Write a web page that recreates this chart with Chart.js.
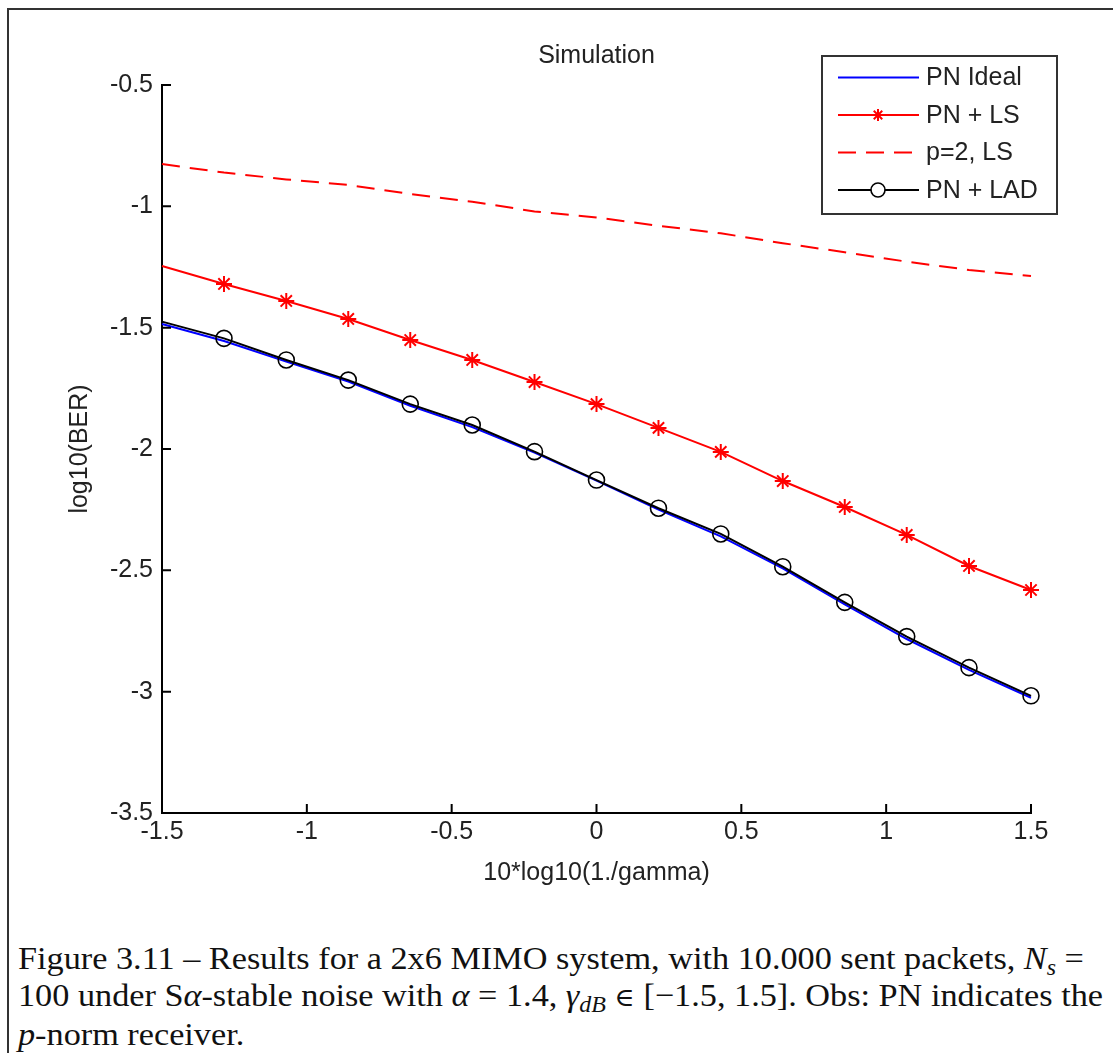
<!DOCTYPE html>
<html>
<head>
<meta charset="utf-8">
<script src="https://cdn.jsdelivr.net/npm/chart.js@4.4.1/dist/chart.umd.min.js"></script>
<style>
  html, body { margin: 0; padding: 0; background: #fff; }
  body { width: 1113px; height: 1053px; position: relative; overflow: hidden; }
  #frame { position: absolute; left: 7px; top: 8px; width: 1300px; height: 1200px;
           border-left: 2px solid #333; border-top: 2px solid #333; }
  #wrap { position: absolute; left: 0; top: 0; width: 1113px; height: 900px; }
  #caption { position: absolute; left: 18px; top: 940px; font-family: "Liberation Serif", serif;
             font-size: 32px; line-height: 37px; white-space: nowrap; color: #111;
             transform: scaleX(1.07); transform-origin: 0 0; }
  #caption sub { font-size: 70%; line-height: 0; vertical-align: -0.25em; }
  #caption .sym { font-family: "DejaVu Serif", serif; font-size: 80%; }
</style>
</head>
<body>
<div id="frame"></div>
<div id="wrap"><canvas id="simChart"></canvas></div>
<div id="caption">Figure 3.11 – Results for a 2x6 MIMO system, with 10.000 sent packets, <i>N<sub>s</sub></i> =<br>100 under S<i>α</i>-stable noise with <i>α</i> = 1.4, <i>γ<sub>dB</sub></i> <span class="sym">∈</span> [−1.5, 1.5]. Obs: PN indicates the<br><i>p</i>-norm receiver.</div>
<script>
// x: 10*log10(1./gamma)
const xValues = [-1.5, -1.286, -1.071, -0.857, -0.643, -0.429, -0.214, 0, 0.214, 0.429, 0.643, 0.857, 1.071, 1.286, 1.5];

// log10(BER) per receiver
const pnIdeal = [-1.485, -1.555, -1.640, -1.722, -1.822, -1.910, -2.015, -2.130, -2.250, -2.360, -2.492, -2.640, -2.783, -2.910, -3.025];
const pnLS    = [-1.246, -1.320, -1.390, -1.464, -1.551, -1.633, -1.724, -1.815, -1.913, -2.012, -2.132, -2.239, -2.354, -2.482, -2.581];
const p2LS    = [-0.826, -0.861, -0.889, -0.912, -0.949, -0.981, -1.021, -1.046, -1.080, -1.111, -1.152, -1.189, -1.228, -1.262, -1.287];
const pnLAD   = [-1.475, -1.544, -1.633, -1.716, -1.815, -1.901, -2.011, -2.128, -2.244, -2.350, -2.485, -2.632, -2.773, -2.901, -3.017];

const seriesNames = ['PN Ideal', 'PN + LS', 'p=2, LS', 'PN + LAD'];
const xTicks = [-1.5, -1, -0.5, 0, 0.5, 1, 1.5];
const yTicks = [-3.5, -3, -2.5, -2, -1.5, -1, -0.5];

const FONT = 'Liberation Sans, Arial, sans-serif';
const TXT = '#222';

function pts(arr) {
  return xValues.map((x, i) => ({ x, y: arr[i] }));
}
// first sample sits on the axis: line only, marker clipped in the original
const skipFirst = (r) => (c) => c.dataIndex === 0 ? 0 : r;

// MATLAB style inward ticks
const inwardTicks = {
  id: 'inwardTicks',
  afterDatasetsDraw(chart) {
    const { ctx, chartArea, scales } = chart;
    ctx.save();
    ctx.strokeStyle = '#000';
    ctx.lineWidth = 2;
    ctx.beginPath();
    scales.x.ticks.forEach((t, i) => {
      const px = scales.x.getPixelForTick(i);
      ctx.moveTo(px, chartArea.bottom);
      ctx.lineTo(px, chartArea.bottom - 9);
    });
    scales.y.ticks.forEach((t, i) => {
      const py = scales.y.getPixelForTick(i);
      ctx.moveTo(chartArea.left, py);
      ctx.lineTo(chartArea.left + 9, py);
    });
    ctx.stroke();
    ctx.restore();
  }
};

// boxed legend in the upper right, like the figure
const boxLegend = {
  id: 'boxLegend',
  afterDraw(chart) {
    const ctx = chart.ctx;
    const x0 = 822, y0 = 56, w = 235, h = 158;
    ctx.save();
    ctx.fillStyle = '#fff';
    ctx.fillRect(x0, y0, w, h);
    ctx.strokeStyle = '#333';
    ctx.lineWidth = 2;
    ctx.strokeRect(x0, y0, w, h);
    chart.data.datasets.forEach((ds, i) => {
      const cy = 77.5 + i * 37.5;
      ctx.strokeStyle = ds.borderColor;
      ctx.lineWidth = 2;
      ctx.setLineDash(ds.borderDash || []);
      ctx.beginPath();
      ctx.moveTo(838, cy);
      ctx.lineTo(919, cy);
      ctx.stroke();
      ctx.setLineDash([]);
      if (ds.legendMarker) {
        ctx.strokeStyle = ds.borderColor;
        ctx.fillStyle = ds.pointStyle === 'circle' ? '#fff' : ds.borderColor;
        ctx.lineWidth = ds.pointBorderWidth;
        Chart.helpers.drawPoint(ctx, {
          pointStyle: ds.pointStyle, radius: ds.legendMarker, borderWidth: ds.pointBorderWidth, rotation: 0
        }, 878, cy);
      }
      ctx.fillStyle = TXT;
      ctx.font = '25px ' + FONT;
      ctx.textBaseline = 'middle';
      ctx.textAlign = 'left';
      ctx.fillText(seriesNames[i], 926, cy + 1);
    });
    ctx.restore();
  }
};

new Chart(document.getElementById('simChart'), {
  type: 'line',
  data: {
    datasets: [
      { label: seriesNames[0], data: pts(pnIdeal), borderColor: '#0000ff', borderWidth: 2,
        pointRadius: 0, order: 3 },
      { label: seriesNames[1], data: pts(pnLS), borderColor: '#ff0000', borderWidth: 2,
        pointStyle: 'star', pointRadius: skipFirst(8), pointBorderWidth: 2,
        pointBorderColor: '#ff0000', pointBackgroundColor: '#ff0000', legendMarker: 6, order: 2 },
      { label: seriesNames[2], data: pts(p2LS), borderColor: '#ff0000', borderWidth: 2,
        borderDash: [18, 10], pointRadius: 0, order: 1 },
      { label: seriesNames[3], data: pts(pnLAD), borderColor: '#000000', borderWidth: 2,
        pointStyle: 'circle', pointRadius: skipFirst(8), pointBorderWidth: 1.6,
        pointBorderColor: '#000', pointBackgroundColor: 'rgba(0,0,0,0)', legendMarker: 7, order: 0 }
    ]
  },
  options: {
    responsive: true,
    maintainAspectRatio: false,
    animation: false,
    events: [],
    layout: { padding: { left: 0, right: 82, top: 0, bottom: 0 } },
    datasets: { line: { clip: false, tension: 0, fill: false } },
    scales: {
      x: {
        type: 'linear', min: -1.5, max: 1.5,
        afterBuildTicks: (s) => { s.ticks = xTicks.map(v => ({ value: v })); },
        afterFit: (s) => { s.height = 87; },
        grid: { display: false, drawTicks: false },
        border: { display: true, color: '#000', width: 2 },
        ticks: { color: TXT, padding: 4, font: { family: FONT, size: 25 }, callback: (v) => String(v), maxRotation: 0 },
        title: { display: true, text: '10*log10(1./gamma)', color: TXT,
                 font: { family: FONT, size: 25, lineHeight: 1.2 }, padding: { top: 0, bottom: 12 } }
      },
      y: {
        type: 'linear', min: -3.5, max: -0.5,
        afterBuildTicks: (s) => { s.ticks = yTicks.map(v => ({ value: v })); },
        afterFit: (s) => { s.width = 162; },
        grid: { display: false, drawTicks: false },
        border: { display: true, color: '#000', width: 2 },
        ticks: { color: TXT, padding: 9, font: { family: FONT, size: 25 }, callback: (v) => String(v) },
        title: { display: true, text: 'log10(BER)', color: TXT,
                 font: { family: FONT, size: 25, lineHeight: 1.2 }, padding: { top: 65, bottom: 0 } }
      }
    },
    plugins: {
      legend: { display: false },
      tooltip: { enabled: false },
      title: { display: true, text: 'Simulation', color: TXT, fullSize: false,
               font: { family: FONT, size: 25, weight: 'normal', lineHeight: 1.2 },
               padding: { top: 41, bottom: 14 } }
    }
  },
  plugins: [inwardTicks, boxLegend]
});
</script>
</body>
</html>
